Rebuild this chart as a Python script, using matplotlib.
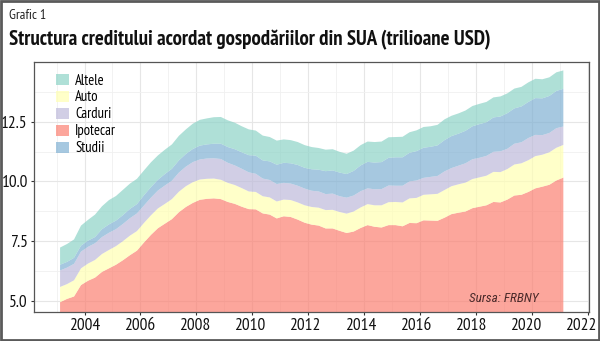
import numpy as np
import matplotlib.pyplot as plt
import matplotlib.transforms as mtransforms
from matplotlib.patches import Patch

plt.rcParams['font.family'] = ['PT Sans Narrow', 'DejaVu Sans']

# quarterly household debt, trillion USD, 2003Q1 - 2021Q1 (FRBNY)
ipotecar = [4.94, 5.08, 5.18, 5.66, 5.84, 5.97, 6.21, 6.36, 6.51, 6.70, 6.91, 7.10,
            7.44, 7.76, 8.04, 8.23, 8.42, 8.71, 8.93, 9.10, 9.23, 9.27, 9.29, 9.26,
            9.14, 9.06, 8.94, 8.84, 8.83, 8.66, 8.61, 8.45, 8.54, 8.51, 8.40, 8.27,
            8.19, 8.15, 8.03, 8.03, 7.93, 7.84, 7.90, 8.05, 8.17, 8.10, 8.07, 8.17,
            8.17, 8.12, 8.26, 8.25, 8.37, 8.36, 8.35, 8.48, 8.63, 8.69, 8.74, 8.88,
            8.94, 9.00, 9.14, 9.12, 9.24, 9.41, 9.44, 9.56, 9.71, 9.78, 9.86, 10.04,
            10.16]
auto = [0.64, 0.62, 0.68, 0.70, 0.72, 0.74, 0.75, 0.77, 0.78, 0.80, 0.82, 0.82,
        0.82, 0.82, 0.83, 0.83, 0.84, 0.86, 0.87, 0.87, 0.85, 0.84, 0.83, 0.81,
        0.80, 0.79, 0.78, 0.74, 0.73, 0.72, 0.72, 0.71, 0.70, 0.71, 0.72, 0.73,
        0.74, 0.75, 0.77, 0.78, 0.79, 0.81, 0.84, 0.86, 0.88, 0.90, 0.93, 0.96,
        0.97, 1.00, 1.03, 1.06, 1.07, 1.10, 1.13, 1.16, 1.17, 1.19, 1.21, 1.22,
        1.23, 1.24, 1.26, 1.27, 1.28, 1.30, 1.32, 1.33, 1.35, 1.34, 1.36, 1.37,
        1.37]
carduri = [0.69, 0.69, 0.69, 0.70, 0.70, 0.70, 0.71, 0.72, 0.71, 0.72, 0.73, 0.74,
           0.73, 0.74, 0.75, 0.77, 0.77, 0.80, 0.82, 0.84, 0.84, 0.85, 0.85, 0.87,
           0.84, 0.82, 0.81, 0.80, 0.76, 0.74, 0.73, 0.73, 0.70, 0.69, 0.70, 0.70,
           0.68, 0.68, 0.67, 0.68, 0.66, 0.67, 0.67, 0.68, 0.66, 0.67, 0.68, 0.70,
           0.68, 0.70, 0.71, 0.73, 0.71, 0.73, 0.75, 0.78, 0.76, 0.78, 0.81, 0.83,
           0.82, 0.83, 0.84, 0.87, 0.85, 0.87, 0.88, 0.93, 0.89, 0.82, 0.81, 0.82,
           0.77]
studii = [0.24, 0.24, 0.25, 0.25, 0.26, 0.26, 0.33, 0.35, 0.36, 0.37, 0.39, 0.39,
          0.43, 0.44, 0.45, 0.48, 0.50, 0.51, 0.53, 0.55, 0.58, 0.59, 0.61, 0.64,
          0.66, 0.68, 0.69, 0.72, 0.76, 0.76, 0.78, 0.81, 0.84, 0.85, 0.87, 0.87,
          0.90, 0.91, 0.96, 0.97, 0.99, 0.99, 1.03, 1.08, 1.11, 1.12, 1.13, 1.16,
          1.19, 1.19, 1.20, 1.23, 1.26, 1.26, 1.28, 1.31, 1.34, 1.34, 1.36, 1.38,
          1.41, 1.41, 1.44, 1.46, 1.49, 1.48, 1.50, 1.51, 1.54, 1.54, 1.55, 1.56,
          1.58]
# home equity revolving + other
altele = [0.72, 0.75, 0.77, 0.84, 0.87, 0.94, 0.96, 1.02, 1.03, 1.06, 1.06, 1.06,
          1.04, 1.04, 1.02, 1.02, 1.02, 1.03, 1.03, 1.06, 1.08, 1.09, 1.11, 1.12,
          1.12, 1.11, 1.09, 1.08, 1.05, 1.04, 1.02, 1.01, 0.98, 0.97, 0.96, 0.95,
          0.93, 0.91, 0.90, 0.89, 0.87, 0.85, 0.85, 0.85, 0.85, 0.86, 0.86, 0.86,
          0.85, 0.86, 0.86, 0.87, 0.87, 0.86, 0.86, 0.87, 0.85, 0.85, 0.85, 0.85,
          0.85, 0.85, 0.84, 0.84, 0.83, 0.83, 0.82, 0.82, 0.81, 0.80, 0.78, 0.78,
          0.77]

years = 2003.125 + 0.25 * np.arange(len(ipotecar))
xticks = np.arange(2004, 2023, 2)

colors = {'Altele': '#8DD3C7', 'Auto': '#FFFFB3', 'Carduri': '#BEBADA',
          'Ipotecar': '#FB8072', 'Studii': '#80B1D3'}

fig = plt.figure(figsize=(6, 3.41), dpi=100)
ax = fig.add_axes([0.057, 0.085, 0.925, 0.733])

ax.stackplot(years, ipotecar, auto, carduri, studii, altele,
             colors=[colors['Ipotecar'], colors['Auto'], colors['Carduri'],
                     colors['Studii'], colors['Altele']],
             alpha=0.7, linewidth=0, zorder=2)

ax.set_xlim(2002.2, 2022.05)
ax.set_ylim(4.53, 15.0)
ax.set_xticks(xticks)
ax.set_xticks(np.arange(2003, 2023, 2), minor=True)
ax.set_yticks([5.0, 7.5, 10.0, 12.5])
ax.set_yticks([6.25, 8.75, 11.25, 13.75], minor=True)
ax.set_yticklabels(['5.0', '7.5', '10.0', '12.5'])
ax.grid(which='major', color='#e6e6e6', linewidth=0.8, zorder=0)
ax.grid(which='minor', color='#f0f0f0', linewidth=0.6, zorder=0)
ax.set_axisbelow(True)
ax.tick_params(which='major', labelsize=12.5, length=2.5, width=0.8,
               color='#333333', labelcolor='#111111', pad=2)
ax.tick_params(which='minor', length=0)
for s in ax.spines.values():
    s.set_color('#555555')
    s.set_linewidth(0.9)

# year labels sit slightly left of their ticks toward the right end
for yr, lab in zip(xticks, ax.get_xticklabels()):
    dx = -0.38 * (yr - 2004) / 100
    lab.set_transform(lab.get_transform() +
                      mtransforms.ScaledTranslation(dx, 0, fig.dpi_scale_trans))

handles = [Patch(facecolor=colors[k], alpha=0.7, edgecolor='none', label=k)
           for k in ['Altele', 'Auto', 'Carduri', 'Ipotecar', 'Studii']]
ax.legend(handles=handles, loc='upper left', bbox_to_anchor=(0.02, 0.995),
          frameon=False, fontsize=10.5, handlelength=0.95, handleheight=0.8,
          handletextpad=0.4, labelspacing=0.2, borderaxespad=0.3)

ax.text(2019.0, 5.11, 'Sursa: FRBNY', fontsize=9.5, style='italic',
        family=['Roboto Condensed', 'DejaVu Sans'],
        color='#4a2a2a', ha='center', va='center', zorder=3)

fig.text(0.015, 0.955, 'Grafic 1', fontsize=10, color='#222222', va='center')
fig.text(0.015, 0.884, 'Structura creditului acordat gospodăriilor din SUA (trilioane USD)',
         fontsize=15, fontweight='bold', color='#111111', va='center')

# outer frame
fig.patches.append(plt.Rectangle((0.002, 0.003), 0.996, 0.994, transform=fig.transFigure,
                                 fill=False, edgecolor='#5a5a5a', linewidth=2))

fig.savefig('out.png', dpi=100)
